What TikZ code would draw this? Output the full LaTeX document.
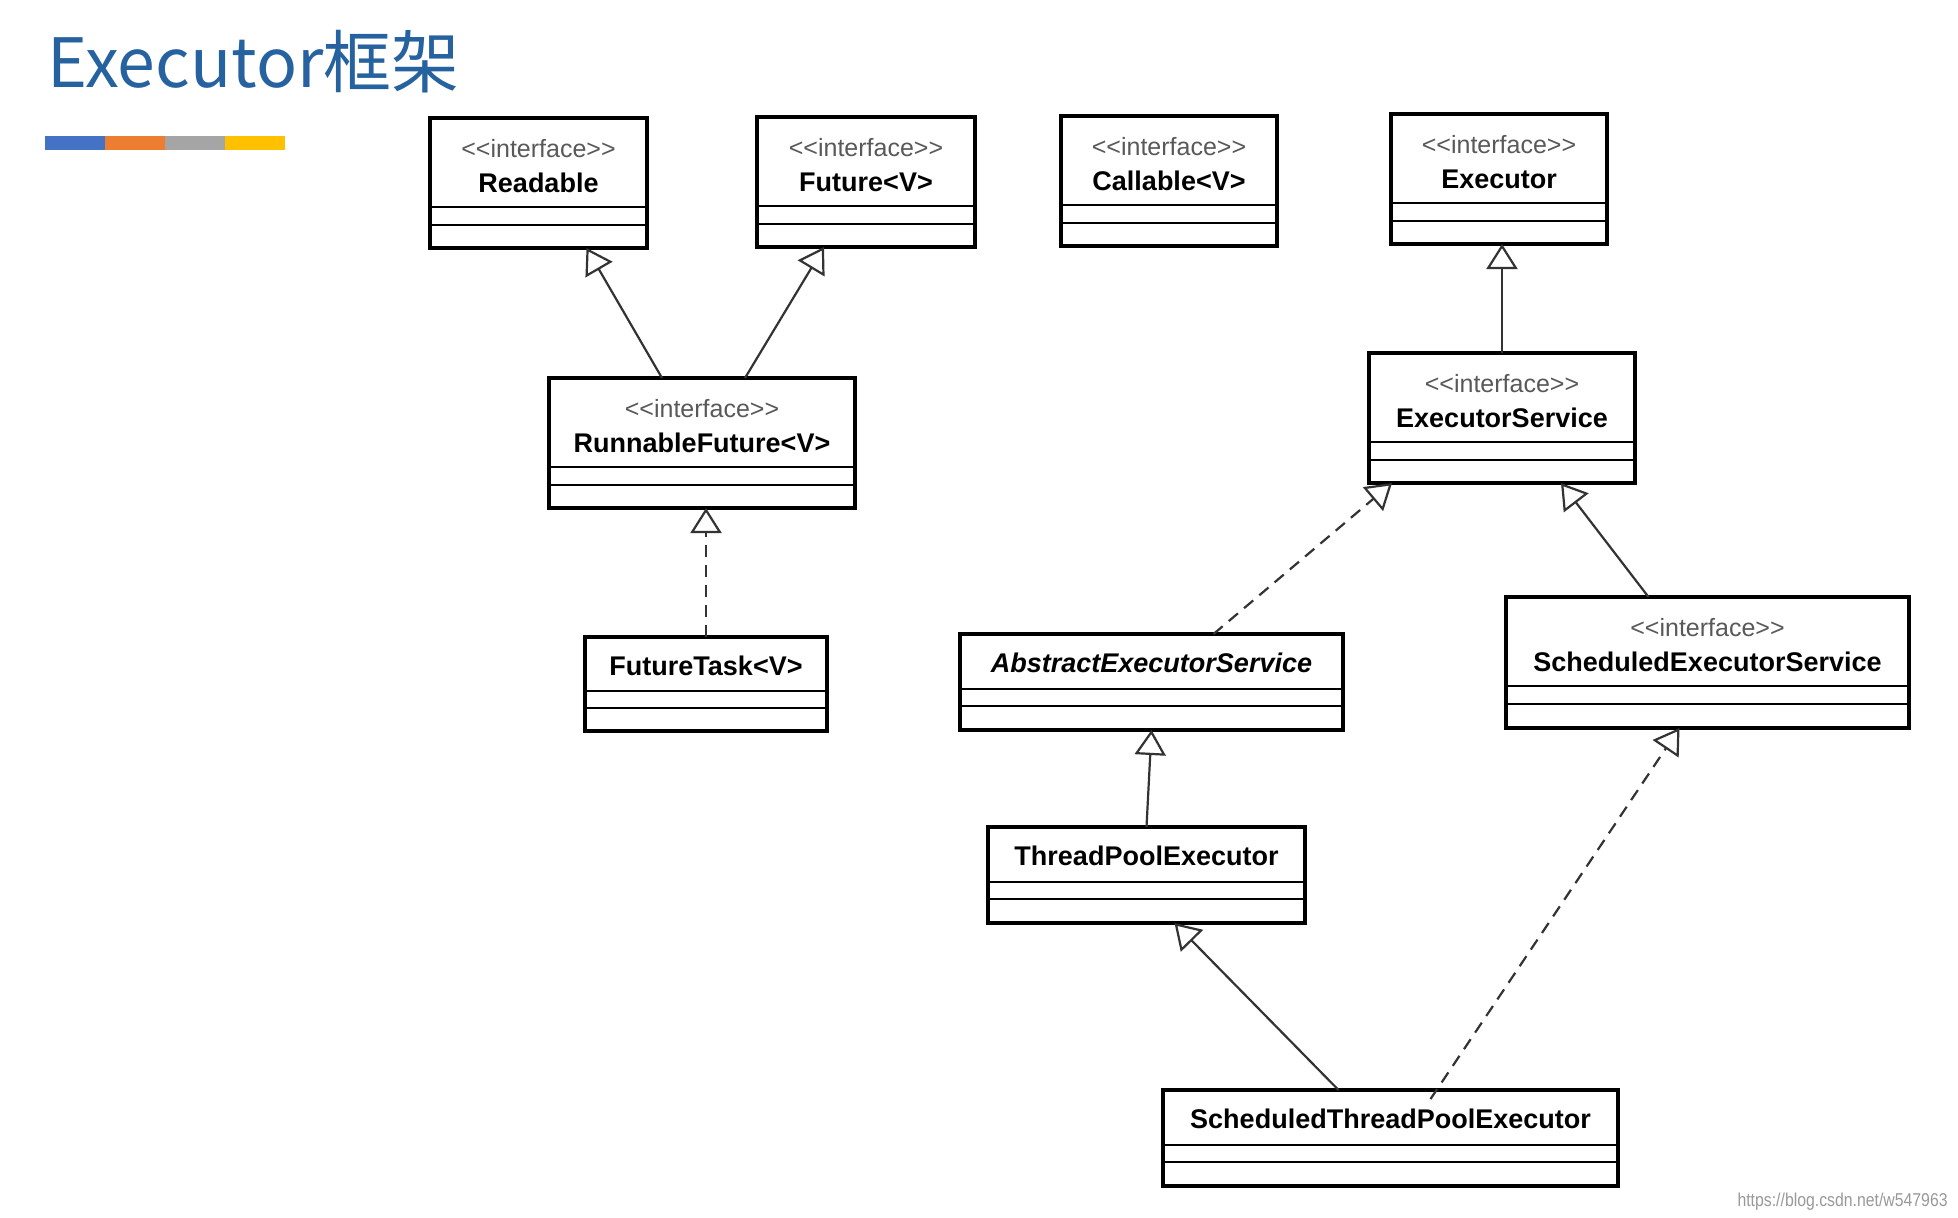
\documentclass[tikz,border=0pt]{standalone}
\usepackage{fontspec}
\setmainfont{Liberation Sans}
\newfontfamily\titlefont{Noto Sans CJK SC}
\newfontfamily\markfont[FakeStretch=0.85]{Liberation Sans}
\usepackage{xcolor}
\usepackage{tikz}
\usetikzlibrary{arrows.meta,calc}
\usetikzlibrary{positioning}
\definecolor{titleblue}{RGB}{38,98,160}
\definecolor{barblue}{RGB}{68,114,196}
\definecolor{barorange}{RGB}{237,125,49}
\definecolor{bargray}{RGB}{165,165,165}
\definecolor{baryellow}{RGB}{255,192,0}

\begin{document}
\begin{tikzpicture}[x=0.5pt,y=0.5pt,yscale=-1,xscale=1,
  classbox/.style={draw, line width=1.8pt, rectangle, inner sep=0pt, outer sep=0pt, anchor=north west},
  divider/.style={line width=1.3pt},
  stereo/.style={font=\fontsize{12.5pt}{15pt}\selectfont, text=black!65, inner sep=0pt},
  cname/.style={font=\fontsize{13.5pt}{16pt}\selectfont\bfseries, inner sep=0pt, anchor=base},
  generalize/.style={line width=1.1pt, draw=black!80, -{Triangle[open, length=12.5pt, width=15.5pt]}},
  realize/.style={generalize, dash pattern=on 6pt off 4pt}]
%set diagram size to the page
\fill[white] (0,0) rectangle (1958,1217);
\useasboundingbox (0,0) rectangle (1958,1217);

%Text Node: title
\node[anchor=base west, font=\titlefont\fontsize{34pt}{38pt}\selectfont, text=titleblue, inner sep=0pt] (title) at (47,87) {Executor框架};
%Shape: colour bar
\fill[barblue] (45,136) rectangle (105,150);
\fill[barorange] (105,136) rectangle (165,150);
\fill[bargray] (165,136) rectangle (225,150);
\fill[baryellow] (225,136) rectangle (285,150);

%Shape: Rectangle
\node[classbox, minimum width=108.5pt, minimum height=65pt] (readable) at (430,118) {};
\draw[divider] ($(readable.north west)+(0,89)$) -- ($(readable.north east)+(0,89)$);
\draw[divider] ($(readable.north west)+(0,107)$) -- ($(readable.north east)+(0,107)$);
\node[stereo] (readable-st) at ($(readable.north)+(0,31)$) {<{}<interface>{}>};
\node[cname] (readable-nm) at ($(readable.north)+(0,74)$) {Readable};

%Shape: Rectangle
\node[classbox, minimum width=109pt, minimum height=65pt] (future) at (757,117) {};
\draw[divider] ($(future.north west)+(0,89)$) -- ($(future.north east)+(0,89)$);
\draw[divider] ($(future.north west)+(0,107)$) -- ($(future.north east)+(0,107)$);
\node[stereo] (future-st) at ($(future.north)+(0,31)$) {<{}<interface>{}>};
\node[cname] (future-nm) at ($(future.north)+(0,74)$) {Future<V>};

%Shape: Rectangle
\node[classbox, minimum width=108pt, minimum height=65pt] (callable) at (1061,116) {};
\draw[divider] ($(callable.north west)+(0,89)$) -- ($(callable.north east)+(0,89)$);
\draw[divider] ($(callable.north west)+(0,107)$) -- ($(callable.north east)+(0,107)$);
\node[stereo] (callable-st) at ($(callable.north)+(0,31)$) {<{}<interface>{}>};
\node[cname] (callable-nm) at ($(callable.north)+(0,74)$) {Callable<V>};

%Shape: Rectangle
\node[classbox, minimum width=108pt, minimum height=65pt] (executor) at (1391,114) {};
\draw[divider] ($(executor.north west)+(0,89)$) -- ($(executor.north east)+(0,89)$);
\draw[divider] ($(executor.north west)+(0,107)$) -- ($(executor.north east)+(0,107)$);
\node[stereo] (executor-st) at ($(executor.north)+(0,31)$) {<{}<interface>{}>};
\node[cname] (executor-nm) at ($(executor.north)+(0,74)$) {Executor};

%Shape: Rectangle
\node[classbox, minimum width=153pt, minimum height=65pt] (runnablefuture) at (549,378) {};
\draw[divider] ($(runnablefuture.north west)+(0,89)$) -- ($(runnablefuture.north east)+(0,89)$);
\draw[divider] ($(runnablefuture.north west)+(0,107)$) -- ($(runnablefuture.north east)+(0,107)$);
\node[stereo] (runnablefuture-st) at ($(runnablefuture.north)+(0,31)$) {<{}<interface>{}>};
\node[cname] (runnablefuture-nm) at ($(runnablefuture.north)+(0,74)$) {RunnableFuture<V>};

%Shape: Rectangle
\node[classbox, minimum width=133pt, minimum height=65pt] (executorservice) at (1369,353) {};
\draw[divider] ($(executorservice.north west)+(0,89)$) -- ($(executorservice.north east)+(0,89)$);
\draw[divider] ($(executorservice.north west)+(0,107)$) -- ($(executorservice.north east)+(0,107)$);
\node[stereo] (executorservice-st) at ($(executorservice.north)+(0,31)$) {<{}<interface>{}>};
\node[cname] (executorservice-nm) at ($(executorservice.north)+(0,74)$) {ExecutorService};

%Shape: Rectangle
\node[classbox, minimum width=201.5pt, minimum height=65.5pt] (scheduledes) at (1506,597) {};
\draw[divider] ($(scheduledes.north west)+(0,89)$) -- ($(scheduledes.north east)+(0,89)$);
\draw[divider] ($(scheduledes.north west)+(0,107)$) -- ($(scheduledes.north east)+(0,107)$);
\node[stereo] (scheduledes-st) at ($(scheduledes.north)+(0,31)$) {<{}<interface>{}>};
\node[cname] (scheduledes-nm) at ($(scheduledes.north)+(0,74)$) {ScheduledExecutorService};

%Shape: Rectangle
\node[classbox, minimum width=121pt, minimum height=47pt] (futuretask) at (585,637) {};
\draw[divider] ($(futuretask.north west)+(0,54)$) -- ($(futuretask.north east)+(0,54)$);
\draw[divider] ($(futuretask.north west)+(0,71)$) -- ($(futuretask.north east)+(0,71)$);
\node[cname] (futuretask-nm) at ($(futuretask.north)+(0,38)$) {FutureTask<V>};

%Shape: Rectangle
\node[classbox, minimum width=191.5pt, minimum height=48pt] (abstractes) at (960,634) {};
\draw[divider] ($(abstractes.north west)+(0,55)$) -- ($(abstractes.north east)+(0,55)$);
\draw[divider] ($(abstractes.north west)+(0,72)$) -- ($(abstractes.north east)+(0,72)$);
\node[cname] (abstractes-nm) at ($(abstractes.north)+(0,38)$) {\itshape AbstractExecutorService};

%Shape: Rectangle
\node[classbox, minimum width=158.5pt, minimum height=48pt] (threadpool) at (988,827) {};
\draw[divider] ($(threadpool.north west)+(0,55)$) -- ($(threadpool.north east)+(0,55)$);
\draw[divider] ($(threadpool.north west)+(0,72)$) -- ($(threadpool.north east)+(0,72)$);
\node[cname] (threadpool-nm) at ($(threadpool.north)+(0,38)$) {ThreadPoolExecutor};

%Shape: Rectangle
\node[classbox, minimum width=227.5pt, minimum height=48pt] (scheduledtp) at (1163,1090) {};
\draw[divider] ($(scheduledtp.north west)+(0,55)$) -- ($(scheduledtp.north east)+(0,55)$);
\draw[divider] ($(scheduledtp.north west)+(0,72)$) -- ($(scheduledtp.north east)+(0,72)$);
\node[cname] (scheduledtp-nm) at ($(scheduledtp.north)+(0,38)$) {ScheduledThreadPoolExecutor};

%Straight Lines
\draw[generalize] ([xshift=-20pt]runnablefuture.north) -- ([xshift=24pt]readable.south);
%Straight Lines
\draw[generalize] ([xshift=21.5pt]runnablefuture.north) -- ([xshift=-21pt]future.south);
%Straight Lines
\draw[realize] (futuretask.north) -- (futuretask.north |- runnablefuture.south);
%Straight Lines
\draw[generalize] (executorservice.north) -- (executorservice.north |- executor.south);
%Straight Lines
\draw[realize] ([xshift=31pt]abstractes.north) -- ([xshift=-55pt]executorservice.south);
%Straight Lines
\draw[generalize] ([xshift=-29.5pt]scheduledes.north) -- ([xshift=29.5pt]executorservice.south);
%Straight Lines
\draw[generalize] (threadpool.north) -- (abstractes.south);
%Straight Lines
\draw[generalize] ([xshift=-26pt]scheduledtp.north) -- ([xshift=14pt]threadpool.south);
%Straight Lines
\draw[realize] ([xshift=20pt,yshift=4.5pt]scheduledtp.north) -- ([xshift=-14pt]scheduledes.south);

%Text Node: watermark
\node[anchor=base east, font=\markfont\fontsize{9.3pt}{11pt}\selectfont, text=black!40, inner sep=0pt] (watermark) at (1948,1206) {https://blog.csdn.net/w547963};

\end{tikzpicture}
\end{document}
